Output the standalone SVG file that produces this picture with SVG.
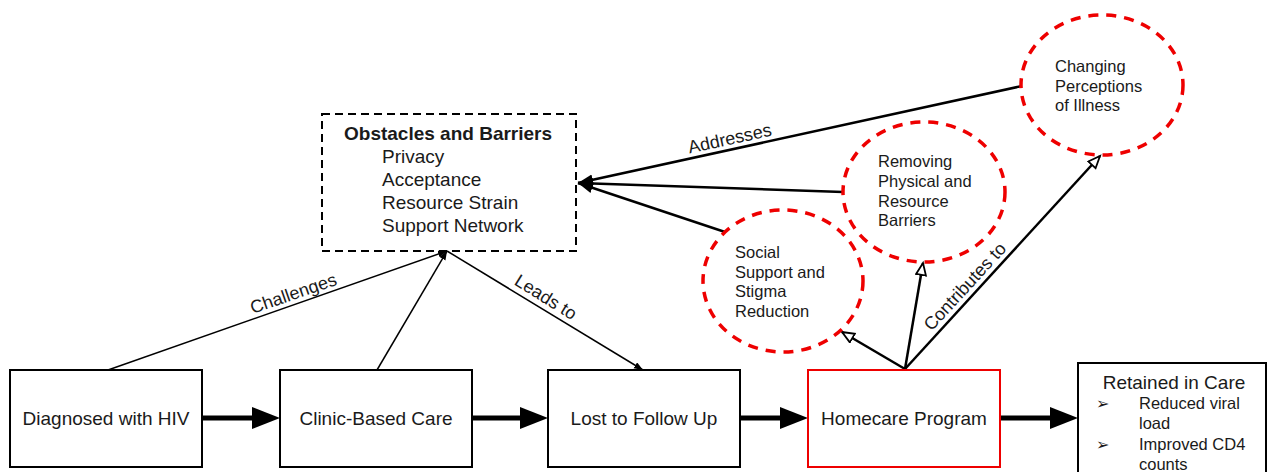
<svg xmlns="http://www.w3.org/2000/svg" width="1268" height="472" viewBox="0 0 1268 472">
  <style>
    text { font-family: "Liberation Sans", Arial, sans-serif; fill: #1a1a1a; }
    .box { fill: #ffffff; stroke: #000000; stroke-width: 2; }
    .box-red { fill: #ffffff; stroke: #ee0000; stroke-width: 2; }
    .dashed { fill: none; stroke: #000000; stroke-width: 2; stroke-dasharray: 8 5; }
    .ring { fill: none; stroke: #ee0000; stroke-width: 3.5; stroke-dasharray: 10 8; }
    .label { font-size: 19px; text-anchor: middle; }
    .small { font-size: 16.5px; }
    .bullet { font-family: "DejaVu Sans", sans-serif; font-size: 16px; }
    .edge-label { font-size: 18px; text-anchor: middle; }
    .flow { stroke: #000000; stroke-width: 5; fill: none; }
    .thin { stroke: #000000; stroke-width: 1.5; fill: none; }
    .mid { stroke: #000000; stroke-width: 2.5; fill: none; }
  </style>
  <defs>
    <marker id="bigHead" markerUnits="userSpaceOnUse" markerWidth="30" markerHeight="24" refX="0" refY="11" orient="auto">
      <path d="M0,0 L28,11 L0,22 Z" fill="#000000"/>
    </marker>
    <marker id="smallHead" markerUnits="userSpaceOnUse" markerWidth="10" markerHeight="8" refX="9" refY="3.5" orient="auto">
      <path d="M0,0 L9,3.5 L0,7 Z" fill="#000000"/>
    </marker>
    <marker id="midHead" markerUnits="userSpaceOnUse" markerWidth="16" markerHeight="12" refX="15" refY="5.5" orient="auto">
      <path d="M0,0 L15,5.5 L0,11 Z" fill="#000000"/>
    </marker>
    <marker id="openHead" markerUnits="userSpaceOnUse" markerWidth="16" markerHeight="14" refX="13" refY="6" orient="auto">
      <path d="M1,1 L13,6 L1,11 Z" fill="#ffffff" stroke="#000000" stroke-width="1.8"/>
    </marker>
  </defs>

  <!-- connectors -->
  <g id="connectors">
    <!-- main care pathway -->
    <line class="flow" x1="202" y1="418" x2="252" y2="418" marker-end="url(#bigHead)"/>
    <line class="flow" x1="472" y1="418" x2="520" y2="418" marker-end="url(#bigHead)"/>
    <line class="flow" x1="740" y1="418" x2="780" y2="418" marker-end="url(#bigHead)"/>
    <line class="flow" x1="1000" y1="418" x2="1050" y2="418" marker-end="url(#bigHead)"/>

    <!-- links to and from the obstacles box -->
    <line class="thin" x1="108" y1="370" x2="447" y2="251" marker-end="url(#smallHead)"/>
    <line class="thin" x1="377" y1="370" x2="447" y2="251" marker-end="url(#smallHead)"/>
    <line class="thin" x1="447" y1="251" x2="643" y2="370" marker-end="url(#smallHead)"/>

    <!-- circles addressing the obstacles -->
    <line class="mid" x1="1022" y1="86" x2="578" y2="183" marker-end="url(#midHead)"/>
    <line class="mid" x1="843" y1="192" x2="578" y2="183" marker-end="url(#midHead)"/>
    <line class="mid" x1="725" y1="232" x2="578" y2="183" marker-end="url(#midHead)"/>

    <!-- homecare program contributions -->
    <line class="mid" x1="905" y1="369" x2="842" y2="332" marker-end="url(#openHead)"/>
    <line class="mid" x1="905" y1="369" x2="923" y2="263" marker-end="url(#openHead)"/>
    <line class="mid" x1="905" y1="369" x2="1100" y2="156" marker-end="url(#openHead)"/>

    <!-- edge labels -->
    <text class="edge-label" transform="translate(297,304) rotate(-19.2)" x="0" y="-5">Challenges</text>
    <text class="edge-label" transform="translate(540,306.5) rotate(31.7)" x="0" y="-5">Leads to</text>
    <text class="edge-label" transform="translate(732,149.4) rotate(-12.3)" x="0" y="-5">Addresses</text>
    <text class="edge-label" transform="translate(973,294) rotate(-47.4)" x="0" y="-5">Contributes to</text>
  </g>

  <g id="diagnosed">
    <rect class="box" x="10" y="370" width="192" height="97"/>
    <text class="label" x="106" y="425">Diagnosed with HIV</text>
  </g>

  <g id="clinic">
    <rect class="box" x="280" y="370" width="192" height="97"/>
    <text class="label" x="376" y="425">Clinic-Based Care</text>
  </g>

  <g id="lost">
    <rect class="box" x="548" y="370" width="192" height="97"/>
    <text class="label" x="644" y="425">Lost to Follow Up</text>
  </g>

  <g id="homecare">
    <rect class="box-red" x="808" y="370" width="192" height="97"/>
    <text class="label" x="904" y="425">Homecare Program</text>
  </g>

  <g id="retained">
    <rect class="box" x="1078" y="363" width="188" height="130"/>
    <text class="label" x="1174" y="389">Retained in Care</text>
    <text class="bullet" x="1096" y="409">➢</text>
    <text class="small" x="1139" y="409">Reduced viral</text>
    <text class="small" x="1139" y="429">load</text>
    <text class="bullet" x="1096" y="450">➢</text>
    <text class="small" x="1139" y="450">Improved CD4</text>
    <text class="small" x="1139" y="470">counts</text>
  </g>

  <g id="obstacles">
    <rect class="dashed" x="322" y="114" width="254" height="137"/>
    <text style="font-size: 19px; font-weight: bold;" x="344" y="140">Obstacles and Barriers</text>
    <text style="font-size: 19px;" x="382" y="163">Privacy</text>
    <text style="font-size: 19px;" x="382" y="186">Acceptance</text>
    <text style="font-size: 19px;" x="382" y="209">Resource Strain</text>
    <text style="font-size: 19px;" x="382" y="232">Support Network</text>
  </g>

  <g id="social-support">
    <ellipse class="ring" cx="783" cy="281" rx="80" ry="71"/>
    <text class="small" x="735" y="258">Social</text>
    <text class="small" x="735" y="277.5">Support and</text>
    <text class="small" x="735" y="297">Stigma</text>
    <text class="small" x="735" y="316.5">Reduction</text>
  </g>

  <g id="removing-barriers">
    <ellipse class="ring" cx="924" cy="192" rx="81" ry="70"/>
    <text class="small" x="878" y="167">Removing</text>
    <text class="small" x="878" y="187">Physical and</text>
    <text class="small" x="878" y="206.5">Resource</text>
    <text class="small" x="878" y="226">Barriers</text>
  </g>

  <g id="changing-perceptions">
    <ellipse class="ring" cx="1102" cy="85" rx="81" ry="70"/>
    <text class="small" x="1055" y="72">Changing</text>
    <text class="small" x="1055" y="91.5">Perceptions</text>
    <text class="small" x="1055" y="111">of Illness</text>
  </g>
</svg>
